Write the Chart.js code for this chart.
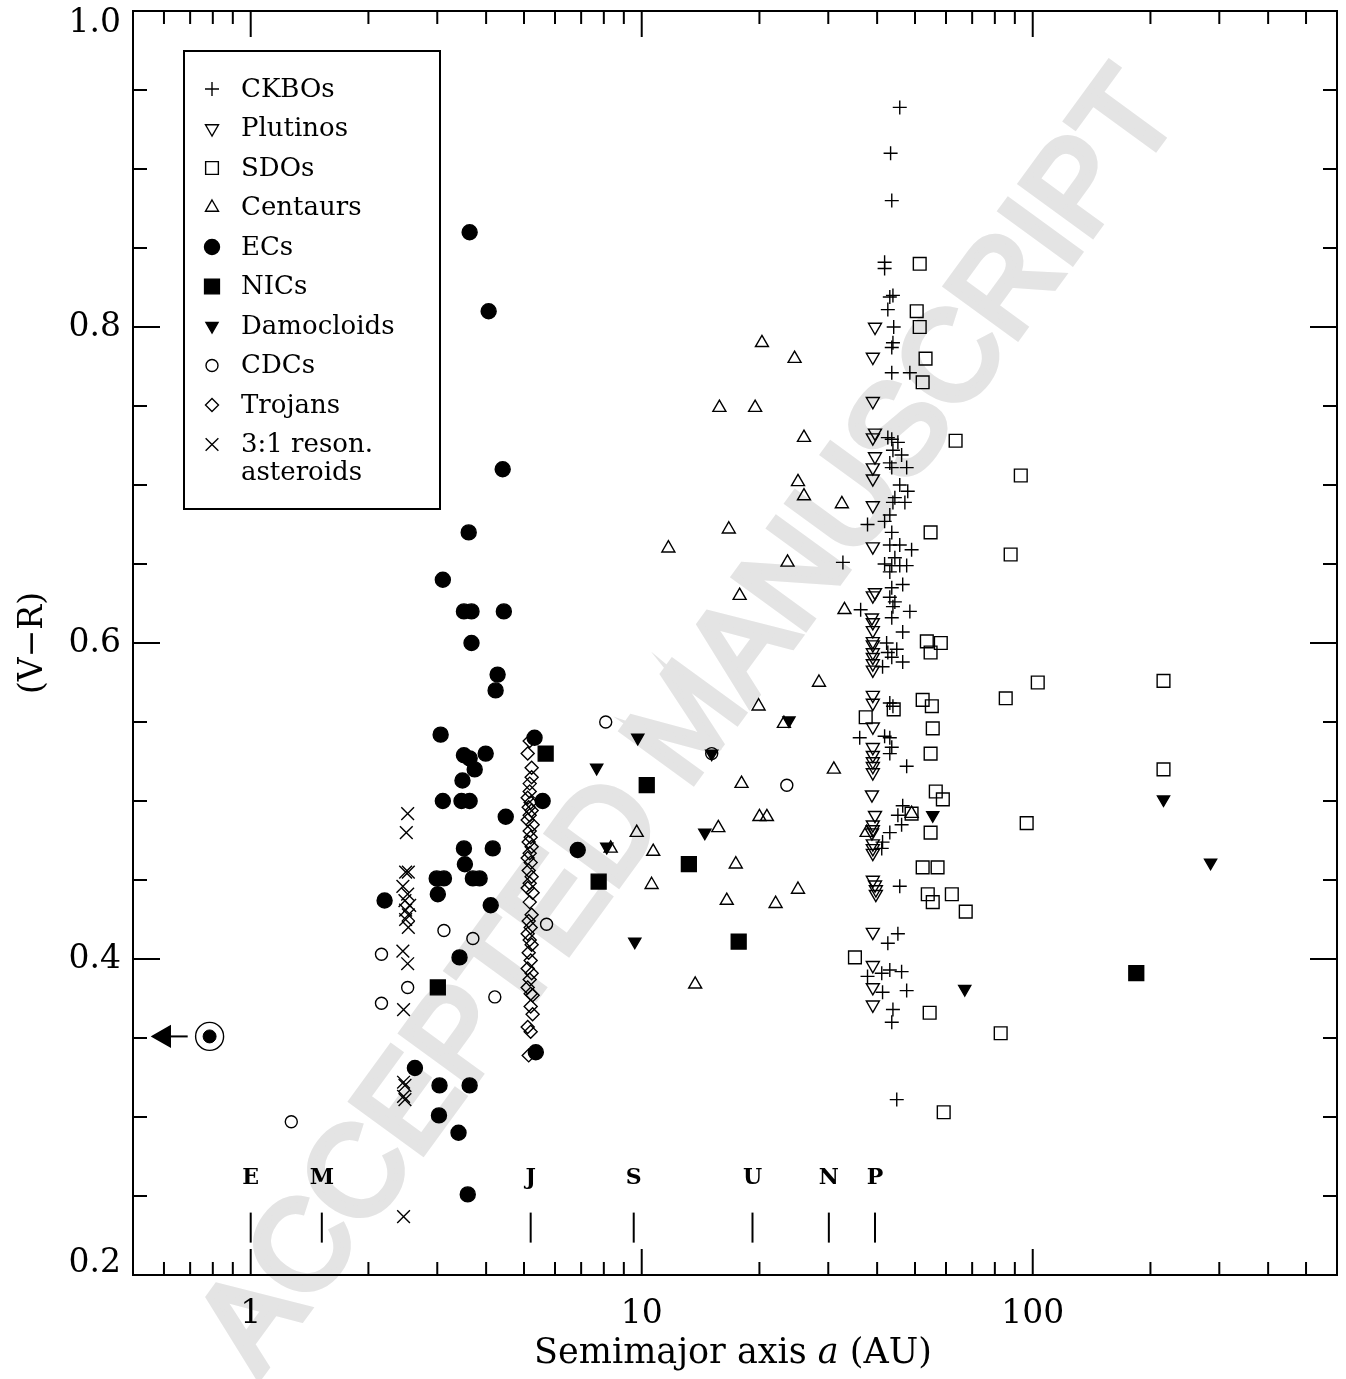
<!DOCTYPE html>
<html>
<head>
<meta charset="utf-8">
<script src="https://cdn.jsdelivr.net/npm/chart.js@4.4.1/dist/chart.umd.min.js"></script>
<style>
  html, body { margin: 0; padding: 0; background: #fff; }
</style>
</head>
<body>
<canvas id="myChart" width="1346" height="1379"></canvas>
<script>
// semimajor axis (AU), V-R colour
const ckbos = [[45.7,0.939],[43.3,0.910],[43.6,0.880],[41.8,0.841],[41.8,0.837],[43.1,0.819],[43.9,0.820],[42.6,0.811],[44.1,0.800],[43.9,0.790],[43.6,0.787],[43.6,0.771],[48.5,0.771],[42.6,0.730],[43.6,0.729],[45.2,0.727],[43.9,0.722],[46.2,0.719],[43.1,0.714],[43.6,0.711],[47.6,0.711],[45.7,0.700],[47.9,0.696],[44.4,0.692],[43.9,0.689],[47.1,0.689],[43.1,0.681],[37.8,0.675],[41.8,0.677],[43.6,0.670],[43.1,0.662],[45.7,0.662],[49.0,0.659],[44.4,0.654],[41.8,0.650],[43.6,0.649],[45.7,0.649],[47.6,0.649],[43.1,0.645],[32.7,0.651],[43.6,0.635],[46.5,0.637],[43.1,0.629],[44.4,0.626],[43.9,0.623],[48.5,0.620],[43.6,0.616],[46.5,0.607],[36.3,0.621],[42.3,0.600],[42.6,0.594],[44.9,0.596],[43.6,0.591],[46.5,0.588],[41.3,0.585],[43.1,0.562],[43.9,0.560],[36.1,0.540],[41.8,0.541],[43.1,0.540],[43.6,0.534],[43.1,0.530],[47.6,0.522],[46.5,0.497],[45.2,0.491],[46.2,0.485],[43.1,0.480],[41.3,0.474],[41.1,0.470],[45.7,0.446],[45.2,0.416],[42.6,0.410],[37.8,0.389],[41.1,0.391],[43.1,0.393],[46.2,0.392],[41.3,0.379],[47.6,0.380],[43.9,0.368],[43.6,0.360],[44.9,0.311]];
const plutinos = [[39.5,0.800],[39.0,0.781],[39.0,0.753],[39.5,0.733],[39.0,0.730],[39.5,0.718],[39.0,0.711],[39.0,0.704],[39.0,0.687],[39.0,0.661],[39.5,0.632],[39.0,0.630],[38.8,0.616],[39.0,0.613],[39.0,0.608],[39.0,0.601],[39.0,0.599],[39.0,0.594],[39.0,0.591],[39.0,0.587],[39.0,0.583],[39.0,0.567],[39.0,0.562],[39.0,0.547],[39.0,0.534],[39.0,0.529],[39.0,0.525],[39.0,0.522],[39.0,0.518],[38.8,0.504],[39.5,0.491],[39.0,0.485],[39.0,0.482],[38.8,0.480],[39.0,0.473],[39.0,0.470],[39.0,0.467],[39.0,0.450],[39.5,0.447],[39.7,0.444],[39.7,0.441],[39.0,0.417],[39.0,0.396],[39.0,0.382],[39.0,0.371]];
const sdos = [[51.4,0.840],[50.5,0.810],[51.4,0.800],[53.2,0.780],[52.3,0.765],[63.5,0.728],[93.2,0.706],[54.8,0.670],[87.8,0.656],[53.6,0.601],[58.2,0.600],[54.8,0.594],[103,0.575],[216,0.576],[85.3,0.565],[52.3,0.564],[55.2,0.560],[44.1,0.558],[37.4,0.553],[55.5,0.546],[54.8,0.530],[216,0.520],[56.5,0.506],[58.9,0.501],[49.0,0.492],[96.5,0.486],[54.8,0.480],[52.3,0.458],[57.1,0.458],[53.9,0.441],[55.5,0.436],[62.1,0.441],[67.4,0.430],[35.1,0.401],[54.5,0.366],[82.8,0.353],[59.2,0.303]];
const centaurs = [[20.3,0.790],[24.6,0.780],[15.8,0.749],[19.5,0.749],[26.0,0.730],[25.1,0.702],[26.0,0.693],[32.5,0.688],[16.7,0.672],[11.7,0.660],[23.6,0.651],[17.8,0.630],[33.0,0.621],[28.4,0.575],[19.9,0.560],[23.1,0.549],[31.0,0.520],[18.0,0.511],[20.0,0.490],[20.9,0.490],[15.7,0.483],[9.71,0.480],[8.33,0.470],[10.7,0.468],[17.4,0.460],[25.1,0.444],[10.6,0.447],[16.5,0.437],[22.0,0.435],[13.7,0.384],[37.6,0.480],[49.0,0.492]];
const ecs = [[3.63,0.860],[4.06,0.810],[4.41,0.710],[3.61,0.670],[3.10,0.640],[3.51,0.620],[3.67,0.620],[4.44,0.620],[3.67,0.600],[4.28,0.580],[4.23,0.570],[3.06,0.542],[5.32,0.540],[3.51,0.529],[3.63,0.527],[3.99,0.530],[3.74,0.520],[3.48,0.513],[3.10,0.500],[3.46,0.500],[3.63,0.500],[5.58,0.500],[4.49,0.490],[3.51,0.470],[4.16,0.470],[3.53,0.460],[2.99,0.451],[3.12,0.451],[3.70,0.451],[3.85,0.451],[2.20,0.437],[3.01,0.441],[4.11,0.434],[3.42,0.401],[6.86,0.469],[2.63,0.331],[3.04,0.320],[3.63,0.320],[3.03,0.301],[3.40,0.290],[3.59,0.251],[5.36,0.341]];
const nics = [[5.68,0.530],[3.01,0.382],[10.3,0.510],[13.2,0.460],[7.76,0.449],[17.7,0.411],[184,0.391]];
const damocloids = [[9.77,0.540],[7.67,0.521],[15.1,0.530],[23.8,0.551],[14.5,0.480],[8.14,0.471],[9.60,0.411],[55.5,0.491],[216,0.501],[285,0.461],[67.0,0.381]];
const cdcs = [[2.16,0.403],[2.52,0.382],[2.16,0.372],[1.27,0.297],[3.12,0.418],[3.70,0.413],[4.21,0.376],[5.71,0.422],[8.09,0.550],[15.1,0.530],[23.5,0.510]];
const trojans = [[5.17,0.538],[5.11,0.530],[5.23,0.521],[5.23,0.515],[5.17,0.511],[5.17,0.506],[5.11,0.502],[5.20,0.499],[5.14,0.496],[5.23,0.494],[5.17,0.491],[5.11,0.488],[5.26,0.485],[5.17,0.481],[5.20,0.477],[5.14,0.474],[5.23,0.471],[5.17,0.467],[5.11,0.464],[5.20,0.461],[5.14,0.456],[5.23,0.452],[5.17,0.448],[5.11,0.445],[5.26,0.442],[5.17,0.436],[5.23,0.428],[5.14,0.424],[5.20,0.420],[5.11,0.416],[5.17,0.412],[5.23,0.409],[5.14,0.404],[5.20,0.399],[5.11,0.394],[5.23,0.391],[5.17,0.387],[5.11,0.382],[5.20,0.378],[5.26,0.377],[5.20,0.370],[5.26,0.365],[5.11,0.357],[5.20,0.354],[5.14,0.339]];
const resonant = [[2.52,0.492],[2.50,0.480],[2.49,0.455],[2.53,0.455],[2.45,0.446],[2.52,0.441],[2.48,0.437],[2.55,0.434],[2.49,0.431],[2.53,0.428],[2.49,0.425],[2.53,0.420],[2.45,0.405],[2.52,0.397],[2.46,0.368],[2.46,0.322],[2.48,0.320],[2.46,0.313],[2.48,0.311],[2.46,0.237]];
const sun = [[0.785, 0.351]];
const sunArrow = [[0.601, 0.351], [0.69, 0.351]];

const planetNames = ['E', 'M', 'J', 'S', 'U', 'N', 'P'];
const planetA = [1.0, 1.52, 5.2, 9.54, 19.2, 30.1, 39.5];

const xMajorTicks = [1, 10, 100];
const xMinorTicks = [0.6, 0.7, 0.8, 0.9, 2, 3, 4, 5, 6, 7, 8, 9, 20, 30, 40, 50, 60, 70, 80, 90, 200, 300, 400, 500];
const yMajorTicks = [0.2, 0.4, 0.6, 0.8, 1.0];
const yMinorTicks = [0.25, 0.3, 0.35, 0.45, 0.5, 0.55, 0.65, 0.7, 0.75, 0.85, 0.9, 0.95];

const FONT = '"DejaVu Serif", serif';
const CLEAR = 'rgba(0,0,0,0)';

// label, data, pointStyle, radius, filled, rotation
const groups = [
  ['CKBOs', ckbos, 'cross', 7, false, 0],
  ['Plutinos', plutinos, 'triangle', 7.5, false, 180],
  ['SDOs', sdos, 'rect', 9, false, 0],
  ['Centaurs', centaurs, 'triangle', 7.5, false, 0],
  ['ECs', ecs, 'circle', 7.5, true, 0],
  ['NICs', nics, 'rect', 10.5, true, 0],
  ['Damocloids', damocloids, 'triangle', 7, true, 180],
  ['CDCs', cdcs, 'circle', 6, false, 0],
  ['Trojans', trojans, 'rectRot', 6.5, false, 0],
  ['3:1 reson.', resonant, 'crossRot', 9, false, 0]
];

const toXY = arr => arr.map(p => ({ x: p[0], y: p[1] }));

const datasets = groups.map(g => ({
  label: g[0],
  data: toXY(g[1]),
  pointStyle: g[2],
  pointRadius: g[3],
  pointHoverRadius: g[3],
  pointRotation: g[5],
  backgroundColor: g[4] ? '#000' : CLEAR,
  borderColor: '#000',
  borderWidth: 1.4
}));

datasets.push({
  label: 'Sun ring', data: toXY(sun), pointStyle: 'circle', pointRadius: 14,
  backgroundColor: CLEAR, borderColor: '#000', borderWidth: 1.4
});
datasets.push({
  label: 'Sun', data: toXY(sun), pointStyle: 'circle', pointRadius: 6.5,
  backgroundColor: '#000', borderColor: '#000', borderWidth: 1
});
datasets.push({
  label: 'arrow', data: toXY(sunArrow), showLine: true, borderColor: '#000', borderWidth: 2,
  pointStyle: 'triangle', pointRadius: [11.5, 0], pointRotation: -90,
  backgroundColor: '#000'
});

const frame = {
  id: 'frame',
  beforeDraw(chart) {
    // grey watermark sits under everything else
    const ctx = chart.ctx;
    ctx.save();
    ctx.translate(692, 724);
    ctx.rotate(-53.9 * Math.PI / 180);
    ctx.font = '127px "Liberation Sans", sans-serif';
    ctx.fillStyle = '#e4e4e4';
    ctx.strokeStyle = '#e4e4e4';
    ctx.lineWidth = 7;
    ctx.textAlign = 'center';
    ctx.textBaseline = 'middle';
    ctx.fillText('ACCEPTED MANUSCRIPT', 0, 0);
    ctx.strokeText('ACCEPTED MANUSCRIPT', 0, 0);
    ctx.restore();
  },
  afterDatasetsDraw(chart) {
    const { ctx, chartArea: a, scales: { x, y } } = chart;
    ctx.save();
    ctx.strokeStyle = '#000';
    ctx.fillStyle = '#000';
    ctx.lineWidth = 2;
    const line = (x1, y1, x2, y2) => { ctx.beginPath(); ctx.moveTo(x1, y1); ctx.lineTo(x2, y2); ctx.stroke(); };

    ctx.strokeRect(a.left, a.top, a.right - a.left, a.bottom - a.top);
    const xt = (v, len) => { const p = x.getPixelForValue(v); line(p, a.bottom, p, a.bottom - len); line(p, a.top, p, a.top + len); };
    const yt = (v, len) => { const p = y.getPixelForValue(v); line(a.left, p, a.left + len, p); line(a.right, p, a.right - len, p); };
    xMajorTicks.forEach(v => xt(v, 26));
    xMinorTicks.forEach(v => xt(v, 13));
    yMajorTicks.forEach(v => yt(v, 27));
    yMinorTicks.forEach(v => yt(v, 14));

    // y tick labels, end labels pulled inside like the original
    ctx.font = '33px ' + FONT;
    ctx.textAlign = 'right';
    ctx.textBaseline = 'middle';
    yMajorTicks.forEach(v => {
      const p = Math.max(a.top + 12, Math.min(a.bottom - 12, y.getPixelForValue(v)));
      ctx.fillText(v.toFixed(1), a.left - 12, p);
    });

    // planet positions
    ctx.font = 'bold 22px ' + FONT;
    ctx.textAlign = 'center';
    planetA.forEach((v, i) => {
      const p = x.getPixelForValue(v);
      ctx.fillText(planetNames[i], p, y.getPixelForValue(0.2615));
      line(p, y.getPixelForValue(0.2395), p, y.getPixelForValue(0.2205));
    });

    // legend box
    ctx.lineWidth = 2;
    ctx.strokeRect(184, 51, 256, 458);
    ctx.font = '26px ' + FONT;
    ctx.textAlign = 'left';
    groups.forEach((g, i) => {
      const ly = 89 + i * 39.5;
      ctx.fillStyle = g[4] ? '#000' : CLEAR;
      ctx.strokeStyle = '#000';
      ctx.lineWidth = 1.4;
      Chart.helpers.drawPoint(ctx, { pointStyle: g[2], radius: g[3], rotation: g[5], borderWidth: 1.4 }, 212, ly);
      ctx.fillStyle = '#000';
      ctx.fillText(g[0], 241, ly + 1);
    });
    ctx.fillText('asteroids', 241, 89 + 9 * 39.5 + 29);

    // axis titles
    const TS = 35;
    ctx.font = TS + 'px ' + FONT;
    const pre = 'Semimajor axis ', sym = 'a', post = ' (AU)';
    const wPre = ctx.measureText(pre).width, wPost = ctx.measureText(post).width;
    ctx.font = 'italic ' + TS + 'px ' + FONT;
    const wSym = ctx.measureText(sym).width;
    const total = wPre + wSym + wPost;
    const tx = 733 - total / 2;
    ctx.font = TS + 'px ' + FONT;
    ctx.fillText(pre, tx, 1354);
    ctx.font = 'italic ' + TS + 'px ' + FONT;
    ctx.fillText(sym, tx + wPre, 1354);
    ctx.font = TS + 'px ' + FONT;
    ctx.fillText(post, tx + wPre + wSym, 1354);

    ctx.save();
    ctx.translate(33, (a.top + a.bottom) / 2);
    ctx.rotate(-Math.PI / 2);
    ctx.textAlign = 'center';
    ctx.font = '33px ' + FONT;
    ctx.fillText('(V\u2212R)', 0, 0);
    ctx.restore();
    ctx.restore();
  }
};

const noPad = s => { s.paddingTop = 0; s.paddingBottom = 0; s.paddingLeft = 0; s.paddingRight = 0; };

const ctx = document.getElementById('myChart').getContext('2d');
new Chart(ctx, {
  type: 'scatter',
  data: { datasets: datasets },
  options: {
    responsive: false,
    animation: false,
    events: [],
    layout: { autoPadding: false, padding: { left: 0, right: 9, top: 11, bottom: 0 } },
    plugins: { legend: { display: false }, tooltip: { enabled: false } },
    scales: {
      x: {
        type: 'logarithmic', min: 0.5, max: 600,
        grid: { display: false, drawTicks: false },
        border: { display: false },
        afterBuildTicks: s => { s.ticks = xMajorTicks.map(v => ({ value: v })); },
        afterFit: s => { s.height = 104; noPad(s); },
        ticks: {
          color: '#000', font: { family: FONT, size: 33 }, padding: 20,
          autoSkip: false, maxRotation: 0, callback: v => String(v)
        }
      },
      y: {
        min: 0.2, max: 1.0,
        grid: { display: false, drawTicks: false },
        border: { display: false },
        afterBuildTicks: s => { s.ticks = yMajorTicks.map(v => ({ value: v })); },
        afterFit: s => { s.width = 133; noPad(s); },
        ticks: { display: false }
      }
    }
  },
  plugins: [frame]
});
</script>
</body>
</html>
